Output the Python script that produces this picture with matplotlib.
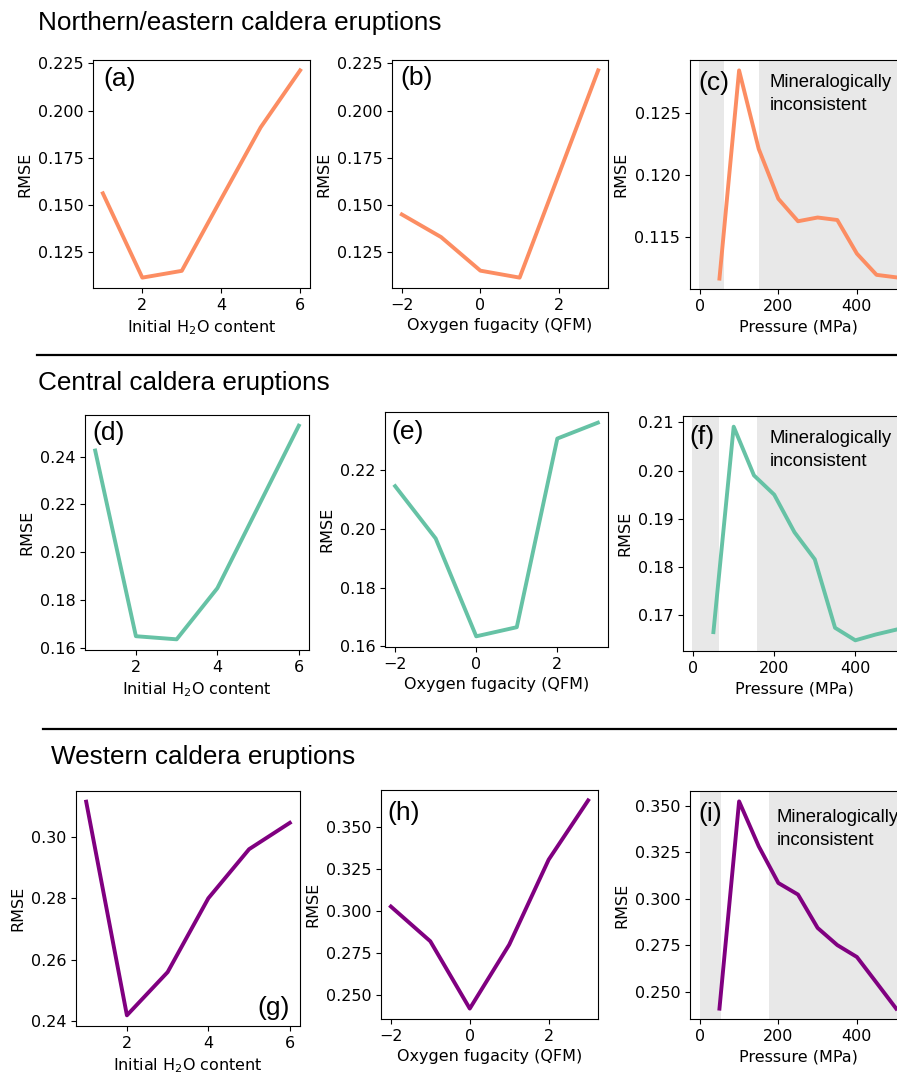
import matplotlib
matplotlib.use("Agg")
import matplotlib.pyplot as plt

W_PX, H_PX = 897, 1073

# RMSE vs. each model parameter, one row per eruption group
h2o = [1, 2, 3, 4, 5, 6]
qfm = [-2, -1, 0, 1, 2, 3]
pressure = [50, 100, 150, 200, 250, 300, 350, 400, 450, 500]

ne_h2o = [0.1561, 0.1114, 0.1150, 0.1532, 0.1911, 0.2213]
ne_qfm = [0.1449, 0.1329, 0.1151, 0.1114, 0.1663, 0.2213]
ne_p = [0.1117, 0.1284, 0.1221, 0.1181, 0.1163, 0.1166, 0.1164, 0.1137, 0.1120, 0.1118]

c_h2o = [0.2425, 0.1648, 0.1635, 0.1849, 0.2189, 0.2529]
c_qfm = [0.2145, 0.1967, 0.1634, 0.1665, 0.2307, 0.2361]
c_p = [0.1665, 0.2091, 0.1990, 0.1950, 0.1872, 0.1816, 0.1674, 0.1648, 0.1660, 0.1670]

w_h2o = [0.3115, 0.2418, 0.2559, 0.2800, 0.2960, 0.3046]
w_qfm = [0.3026, 0.2820, 0.2421, 0.2800, 0.3304, 0.3655]
w_p = [0.2411, 0.3523, 0.3282, 0.3085, 0.3023, 0.2844, 0.2752, 0.2688, 0.2550, 0.2411]

# pressure windows outside the consistent mineral assemblage
ne_bad = [(-3, 62), (150, 600)]
c_bad = [(-4, 64), (157, 600)]
w_bad = [(0, 53), (177, 600)]

titles = ["Northern/eastern caldera eruptions", "Central caldera eruptions",
          "Western caldera eruptions"]
colors = ["#fc8d62", "#66c2a5", "#800080"]

rows = [
    (ne_h2o, ne_qfm, ne_p, ne_bad),
    (c_h2o, c_qfm, c_p, c_bad),
    (w_h2o, w_qfm, w_p, w_bad),
]

# panel boxes in pixels: left, top, right, bottom
boxes = [
    [(93, 60, 310, 288), (392, 60, 608, 288), (690, 60, 906, 289)],
    [(85, 415, 309, 650), (385, 412, 608, 647), (683, 416, 906, 651)],
    [(76, 791, 300, 1026), (381, 790, 598, 1019), (690, 791, 906, 1019)],
]
letters = [["(a)", "(b)", "(c)"], ["(d)", "(e)", "(f)"], ["(g)", "(h)", "(i)"]]
letter_pos = [
    [(0.046, 0.917), (0.037, 0.92), (0.037, 0.90)],
    [(0.031, 0.923), (0.027, 0.914), (0.027, 0.91)],
    [(0.955, 0.077), (0.028, 0.90), (0.04, 0.90)],
]
note_pos = [(0.37, 0.94), (0.39, 0.94), (0.40, 0.92)]
title_pos = [(38, 23), (38, 383), (51, 757)]
sep_lines = [(37, 355), (43, 729)]

fig = plt.figure(figsize=(W_PX / 100, H_PX / 100), dpi=100)


def add_ax(box):
    l, t, r, b = box
    return fig.add_axes([l / W_PX, 1 - b / H_PX, (r - l) / W_PX, (b - t) / H_PX])


tick_fs = 11.5
lw = 2.8
for i, (yh, yq, yp, bad) in enumerate(rows):
    col = colors[i]

    ax = add_ax(boxes[i][0])
    ax.plot(h2o, yh, color=col, lw=lw)
    ax.set_xticks([2, 4, 6])
    ax.set_xlabel("Initial H$_2$O content", fontsize=tick_fs)

    ax2 = add_ax(boxes[i][1])
    ax2.plot(qfm, yq, color=col, lw=lw)
    ax2.set_xticks([-2, 0, 2])
    ax2.set_xlabel("Oxygen fugacity (QFM)", fontsize=tick_fs)

    ax3 = add_ax(boxes[i][2])
    for lo, hi in bad:
        ax3.axvspan(lo, hi, color="#e8e8e8", lw=0, zorder=0)
    ax3.plot(pressure, yp, color=col, lw=lw)
    ax3.set_xlim(-25, 525)
    ax3.set_xticks([0, 200, 400])
    ax3.set_xlabel("Pressure (MPa)", fontsize=tick_fs)
    ax3.text(note_pos[i][0], note_pos[i][1], "Mineralogically\ninconsistent",
             transform=ax3.transAxes, ha="left", va="top", fontsize=13.3,
             family="Liberation Sans", linespacing=1.45)

    for j, a in enumerate((ax, ax2, ax3)):
        a.set_ylabel("RMSE", fontsize=tick_fs)
        a.tick_params(labelsize=tick_fs)
        lx, ly = letter_pos[i][j]
        ha = "right" if letters[i][j] == "(g)" else "left"
        a.text(lx, ly, letters[i][j], transform=a.transAxes, ha=ha, va="center",
               fontsize=19, family="Liberation Sans")

    # y tick formats follow each row's scale
    if i == 0:
        ax.set_yticks([0.125, 0.150, 0.175, 0.200, 0.225])
        ax2.set_yticks([0.125, 0.150, 0.175, 0.200, 0.225])
        ax3.set_yticks([0.115, 0.120, 0.125])
    elif i == 1:
        ax.set_yticks([0.16, 0.18, 0.20, 0.22, 0.24])
        ax2.set_yticks([0.16, 0.18, 0.20, 0.22])
        ax3.set_yticks([0.17, 0.18, 0.19, 0.20, 0.21])
    else:
        ax.set_yticks([0.24, 0.26, 0.28, 0.30])
        ax2.set_yticks([0.250, 0.275, 0.300, 0.325, 0.350])
        ax3.set_yticks([0.250, 0.275, 0.300, 0.325, 0.350])

for (x, y), t in zip(title_pos, titles):
    fig.text(x / W_PX, 1 - y / H_PX, t, ha="left", va="center", fontsize=18.8,
             family="Liberation Sans")

for x, y in sep_lines:
    fig.add_artist(plt.Line2D([x / W_PX, 1.0], [1 - y / H_PX, 1 - y / H_PX],
                              color="black", lw=1.6, transform=fig.transFigure))

fig.savefig("out.png", dpi=100)
